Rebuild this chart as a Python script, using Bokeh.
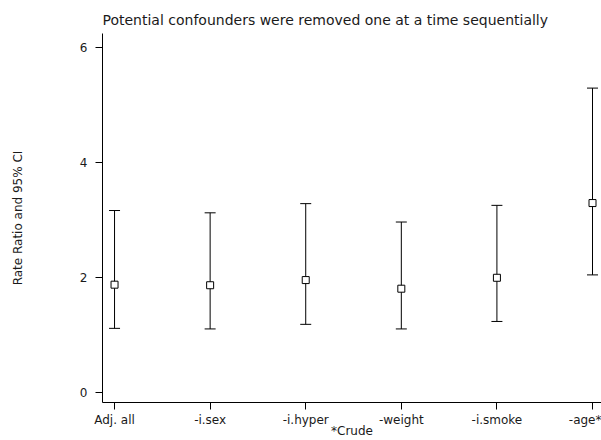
from bokeh.plotting import figure
from bokeh.models import ColumnDataSource, Whisker, TeeHead, FixedTicker, Range1d
from bokeh.embed import file_html
from bokeh.resources import INLINE

categories = ["Adj. all", "-i.sex", "-i.hyper", "-weight", "-i.smoke", "-age*"]
estimate = [1.87, 1.86, 1.95, 1.80, 1.99, 3.29]
lower = [1.11, 1.10, 1.18, 1.10, 1.23, 2.04]
upper = [3.16, 3.12, 3.28, 2.96, 3.25, 5.29]
y_ticks = [0, 2, 4, 6]
title_text = "Potential confounders were removed one at a time sequentially"

FONT = "DejaVu Sans"
xpos = list(range(1, len(categories) + 1))

src = ColumnDataSource(dict(x=xpos, est=estimate, lo=lower, hi=upper))

p = figure(width=601, height=440, output_backend="svg", toolbar_location=None,
           x_range=Range1d(0.874, 6.094), y_range=Range1d(-0.18, 6.24),
           min_border_left=102, min_border_right=0, min_border_top=33, min_border_bottom=36,
           title=title_text)

p.title.align = "left"
p.title.text_font = FONT
p.title.text_font_size = "14px"
p.title.text_font_style = "normal"
p.title.text_color = "#1a1a1a"
p.title.offset = 0
p.title.standoff = 12

p.outline_line_color = None
p.xgrid.visible = False
p.ygrid.visible = False
p.background_fill_color = "white"
p.border_fill_color = "white"

w = Whisker(base="x", lower="lo", upper="hi", source=src, dimension="height",
            line_color="black", line_width=1,
            upper_head=TeeHead(size=11, line_color="black", line_width=1),
            lower_head=TeeHead(size=11, line_color="black", line_width=1))
p.add_layout(w)

p.scatter("x", "est", source=src, marker="square", size=7,
          fill_color="white", line_color="black", line_width=1)

p.xaxis.ticker = FixedTicker(ticks=xpos)
p.xaxis.major_label_overrides = {i: c for i, c in zip(xpos, categories)}
p.xaxis.axis_label = "*Crude"
p.yaxis.ticker = FixedTicker(ticks=y_ticks)
p.yaxis.axis_label = "Rate Ratio and 95% CI"

for ax in (p.xaxis, p.yaxis):
    ax.axis_line_color = "black"
    ax.major_tick_line_color = "black"
    ax.minor_tick_line_color = None
    ax.major_tick_out = 7
    ax.major_tick_in = 0
    ax.major_label_text_font = FONT
    ax.major_label_text_font_size = "12px"
    ax.major_label_text_color = "#1a1a1a"
    ax.axis_label_text_font = FONT
    ax.axis_label_text_font_size = "12px"
    ax.axis_label_text_font_style = "normal"
    ax.axis_label_text_color = "#1a1a1a"

p.xaxis.major_label_standoff = 3
p.xaxis.axis_label_standoff = -6
p.yaxis.major_label_standoff = 8
p.yaxis.axis_label_standoff = 52
p.yaxis.major_label_orientation = "horizontal"

open("out.html", "w").write(file_html(p, INLINE))
